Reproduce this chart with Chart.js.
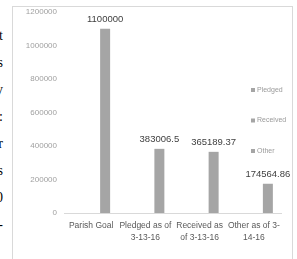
<!DOCTYPE html>
<html>
<head>
<meta charset="utf-8">
<script src="https://cdn.jsdelivr.net/npm/chart.js@4"></script>
<style>
  html, body { margin: 0; padding: 0; background: #fff; overflow: hidden; }
  #wrap { position: relative; width: 297px; height: 259px; }
  #frame { position: absolute; left: 12px; top: 6px; width: 279px; height: 270px; border: 1px solid #d9d9d9; }
  #side { position: absolute; left: -13px; top: 22px; width: 16px; font: 14px "Liberation Serif"; color: #000; line-height: 27px; text-align: right; }
  canvas { position: absolute; left: 0; top: 0; }
</style>
</head>
<body>
<div id="wrap">
  <div id="side">t<br>s<br>y<br>:<br>r<br>s<br>0<br>-</div>
  <div id="frame"></div>
  <canvas id="myChart" width="297" height="259"></canvas>
</div>
<script>
const categories = ["Parish Goal", ["Pledged as of", "3-13-16"], ["Received as", "of 3-13-16"], ["Other as of 3-", "14-16"]];
const seriesNames = ["Pledged", "Received", "Other"];
const amounts = [1100000, 383006.5, 365189.37, 174564.86];
const emptySeries = [null, null, null, null];
const yTicks = [0, 200000, 400000, 600000, 800000, 1000000, 1200000];

const barColor = "#a5a5a5";

// value labels above the bars
const valueLabels = {
  id: "valueLabels",
  afterDatasetsDraw(chart) {
    const ctx = chart.ctx;
    ctx.save();
    ctx.font = "9.5px 'Liberation Sans'";
    ctx.fillStyle = "#404040";
    ctx.textAlign = "center";
    ctx.textBaseline = "bottom";
    chart.data.datasets.forEach((ds, i) => {
      chart.getDatasetMeta(i).data.forEach((bar, j) => {
        if (ds.data[j] == null) return;
        ctx.fillText(String(ds.data[j]), bar.x, bar.y - 5);
      });
    });
    ctx.restore();
  }
};

// legend drawn inside the plot, right side
const sideLegend = {
  id: "sideLegend",
  afterDraw(chart) {
    const ctx = chart.ctx;
    ctx.save();
    ctx.font = "7px 'Liberation Sans'";
    ctx.textBaseline = "middle";
    seriesNames.forEach((name, i) => {
      const y = 90 + i * 30.5;
      ctx.fillStyle = barColor;
      ctx.fillRect(251, y - 2, 4, 4);
      ctx.fillStyle = "#9a9a9a";
      ctx.fillText(name, 257, y);
    });
    ctx.restore();
  }
};

const ctx = document.getElementById("myChart").getContext("2d");
const chart = new Chart(ctx, {
  type: "bar",
  data: {
    labels: categories,
    datasets: [
      { label: seriesNames[0], data: emptySeries, backgroundColor: barColor },
      { label: seriesNames[1], data: emptySeries, backgroundColor: barColor },
      { label: seriesNames[2], data: amounts, backgroundColor: barColor }
    ]
  },
  options: {
    responsive: false,
    animation: false,
    layout: { padding: { left: 0, right: 16, top: 12, bottom: 0 } },
    plugins: { legend: { display: false }, tooltip: { enabled: false } },
    datasets: { bar: { categoryPercentage: 0.774, barPercentage: 0.714 } },
    scales: {
      x: {
        grid: { display: false, drawTicks: false },
        border: { color: "#d9d9d9" },
        ticks: {
          color: "#595959",
          font: { family: "Liberation Sans", size: 8.5, lineHeight: 1.5 },
          padding: 6,
          maxRotation: 0,
          autoSkip: false
        },
        afterFit(s) { s.height = 46; }
      },
      y: {
        min: 0,
        max: 1200000,
        afterBuildTicks(s) { s.ticks = yTicks.map(v => ({ value: v })); },
        grid: { display: false, drawTicks: false },
        border: { display: false },
        ticks: {
          color: "#a0a0a0",
          font: { family: "Liberation Sans", size: 8 },
          padding: 7,
          callback: v => String(v)
        },
        afterFit(s) { s.width = 64; }
      }
    }
  },
  plugins: [valueLabels, sideLegend]
});
</script>
</body>
</html>
